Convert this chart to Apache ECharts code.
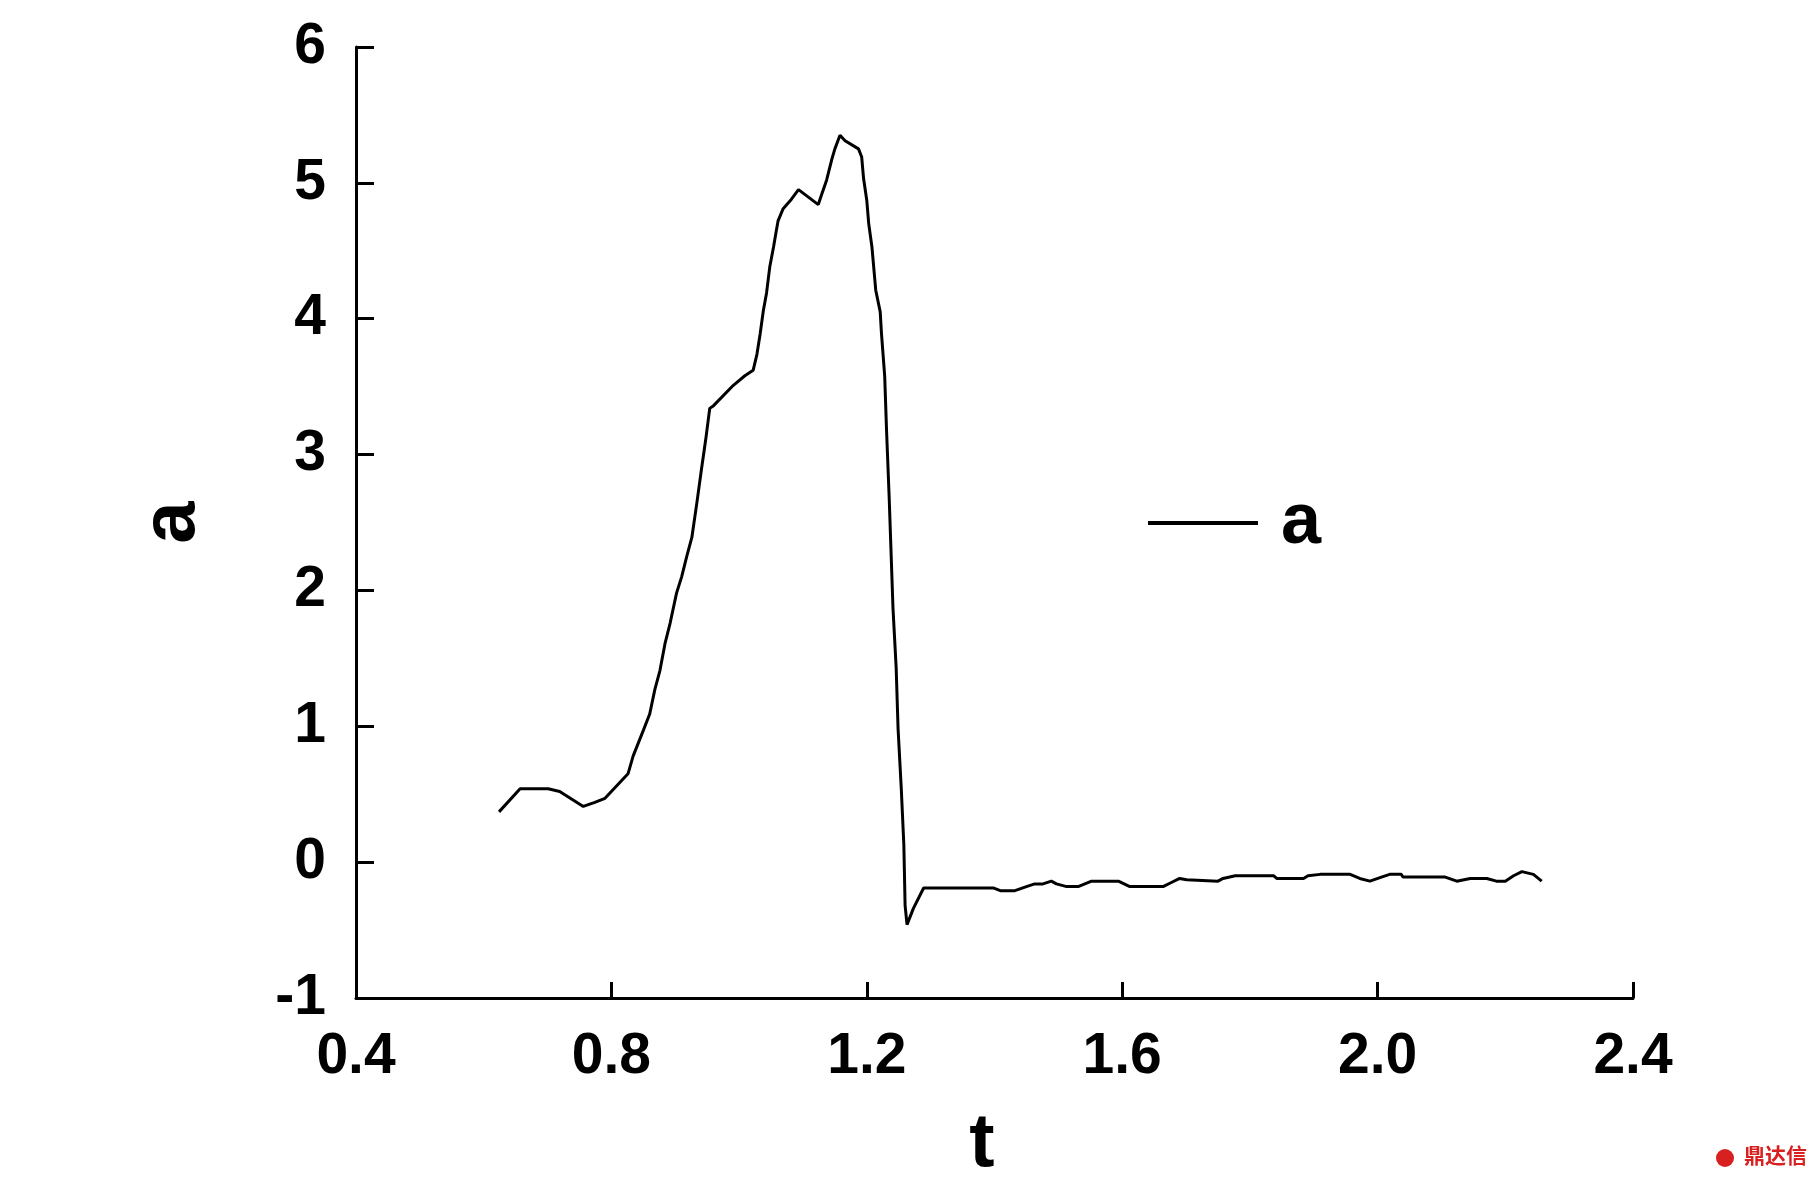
<!DOCTYPE html>
<html>
<head>
<meta charset="utf-8">
<script src="https://cdn.jsdelivr.net/npm/echarts@6/dist/echarts.min.js"></script>
<style>
html,body{margin:0;padding:0;background:#fff;}
#chart{width:1819px;height:1179px;}
</style>
</head>
<body>
<div id="chart"></div>
<script>
// t values (x) and a values (y)
const tValues = [0.624,0.657,0.701,0.719,0.756,0.774,0.790,0.826,0.834,0.850,0.860,0.868,0.876,0.884,0.892,0.902,0.910,0.918,0.926,0.934,
0.941,0.948,0.954,0.960,0.991,1.009,1.022,1.028,1.033,1.038,1.043,1.048,1.054,1.058,1.061,1.069,1.082,1.093,1.124,1.129,1.137,1.145,1.150,1.158,1.166,1.187,1.192,1.195,1.200,1.203,1.208,1.214,1.221,1.223,1.228,1.231,1.235,
1.241,1.246,1.249,1.254,1.258,1.260,1.263,1.273,1.289,
1.398,1.409,1.432,1.450,1.463,1.476,1.489,1.497,1.513,1.531,1.552,1.594,1.612,1.664,1.677,1.690,1.701,1.703,1.750,1.758,1.777,1.837,1.842,1.884,1.891,1.910,1.957,1.972,1.988,2.006,2.019,2.037,2.040,2.106,2.124,2.145,2.171,2.186,2.200,2.213,2.226,2.244,2.257];
const aValues = [0.37,0.54,0.54,0.52,0.41,0.44,0.47,0.65,0.78,0.97,1.09,1.27,1.41,1.61,1.76,1.98,2.10,2.25,2.39,2.65,
2.89,3.12,3.34,3.36,3.51,3.58,3.62,3.74,3.89,4.06,4.19,4.38,4.53,4.64,4.72,4.81,4.88,4.95,4.84,4.91,5.02,5.17,5.25,5.35,5.31,5.25,5.19,5.03,4.87,4.70,4.53,4.21,4.05,3.89,3.58,3.17,2.69,
1.87,1.43,0.98,0.54,0.13,-0.32,-0.46,-0.34,-0.19,
-0.19,-0.21,-0.21,-0.18,-0.16,-0.16,-0.14,-0.16,-0.18,-0.18,-0.14,-0.14,-0.18,-0.18,-0.15,-0.12,-0.13,-0.14,-0.14,-0.12,-0.10,-0.10,-0.12,-0.12,-0.10,-0.09,-0.09,-0.12,-0.14,-0.11,-0.09,-0.09,-0.11,-0.11,-0.14,-0.12,-0.12,-0.14,-0.14,-0.10,-0.07,-0.09,-0.14];
const xTicks = [0.4, 0.8, 1.2, 1.6, 2.0, 2.4];
const yTicks = [-1, 0, 1, 2, 3, 4, 5, 6];
const seriesName = 'a';
const xName = 't';
const yName = 'a';
const watermark = '鼎达信';

const data = tValues.map((t, i) => [t, aValues[i]]);
const font = 'Liberation Sans, Arial, sans-serif';

const chart = echarts.init(document.getElementById('chart'), null, {renderer: 'canvas'});
chart.setOption({
  backgroundColor: '#ffffff',
  animation: false,
  grid: {left: 356, right: 186, top: 47, bottom: 181, containLabel: false, outerBoundsMode: 'none'},
  legend: {
    data: [seriesName],
    left: 1148, top: 483, padding: 0,
    icon: 'rect', itemWidth: 110, itemHeight: 4,
    itemStyle: {color: '#000'},
    textStyle: {fontFamily: font, fontWeight: 'bold', fontSize: 72, color: '#000', padding: [0,0,0,18], lineHeight: 80}
  },
  xAxis: {
    type: 'value', min: xTicks[0], max: xTicks[xTicks.length-1], interval: 0.4,
    name: xName, nameLocation: 'middle', nameGap: 109,
    nameTextStyle: {fontFamily: font, fontWeight: 'bold', fontSize: 76, color: '#000', padding: [0, 25, 0, 0]},
    axisLine: {onZero: false, lineStyle: {color: '#000', width: 3}},
    axisTick: {inside: true, length: 16, lineStyle: {color: '#000', width: 3}},
    axisLabel: {fontFamily: font, fontWeight: 'bold', fontSize: 57, color: '#000', margin: 31,
      formatter: v => Number(v).toFixed(1)},
    splitLine: {show: false}
  },
  yAxis: {
    type: 'value', min: yTicks[0], max: yTicks[yTicks.length-1], interval: 1,
    name: yName, nameLocation: 'middle', nameGap: 145, nameRotate: 90,
    nameTextStyle: {fontFamily: font, fontWeight: 'bold', fontSize: 76, color: '#000'},
    axisLine: {onZero: false, lineStyle: {color: '#000', width: 3}},
    axisTick: {inside: true, length: 18, lineStyle: {color: '#000', width: 3}},
    axisLabel: {fontFamily: font, fontWeight: 'bold', fontSize: 57, color: '#000', margin: 30},
    splitLine: {show: false}
  },
  graphic: [
    {type: 'circle', left: 1716, top: 1149, shape: {r: 9}, style: {fill: '#d7201f'}},
    {type: 'text', left: 1744, top: 1145, style: {text: watermark, fill: '#d7201f', font: 'bold 21px "Noto Sans CJK SC"'}}
  ],
  series: [{
    name: seriesName, type: 'line', data: data, symbol: 'none',
    lineStyle: {color: '#000', width: 3}, itemStyle: {color: '#000'}
  }]
});
</script>
</body>
</html>
